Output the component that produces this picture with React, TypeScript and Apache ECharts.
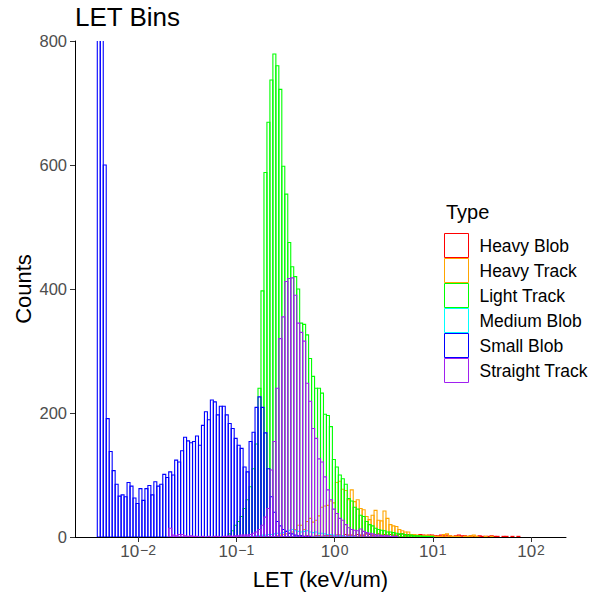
import React, { useEffect, useRef } from 'react';
import * as echarts from 'echarts';

// Histogram bins in log10(LET) units
const BIN_START = -2.416;
const BIN_WIDTH = 0.0303;
const X_MIN = -2.643;
const X_MAX = 2.356;
const X_TICKS = [-2, -1, 0, 1, 2];
const Y_MIN = 0;
const Y_MAX = 800;
const Y_INTERVAL = 200;

const CATEGORIES = ['Heavy Blob', 'Heavy Track', 'Light Track', 'Medium Blob', 'Small Blob', 'Straight Track'];
const COLORS = ['#FF0000', '#FFA500', '#00FF00', '#00FFFF', '#0000FF', '#A020F0'];

// counts per bin, starting at the given first bin index
const heavyBlobFirstBin = 68;
const heavyBlob = [2, 1, 2, 1, 1, 2, 2, 1, 2, 2, 3, 2, 3, 3, 2, 4, 3, 3, 2, 4, 3, 3, 5, 4, 3, 4, 5, 3, 4, 3, 4, 3, 3, 4, 5, 3, 4, 3, 3, 2, 4, 3, 2, 3, 3, 2, 2, 3, 2, 3, 2, 1, 2, 3, 2, 2, 1, 2, 1, 1, 2, 1, 1, 1, 2, 1, 1, 0, 1, 1, 0, 1, 0, 1];

const heavyTrackFirstBin = 60;
const heavyTrack = [2, 3, 4, 5, 6, 8, 12, 19, 19, 12, 25, 30, 24, 27, 34, 48, 50, 51, 58, 55, 88, 90, 77, 75, 60, 76, 57, 60, 46, 44, 33, 28, 35, 43, 27, 26, 42, 30, 20, 18, 17, 12, 10, 8, 8, 4, 4, 3, 2, 2, 3, 2, 2, 1, 1, 1, 4, 5, 2, 1, 1, 1, 0, 1, 1, 2, 3, 1, 0, 0, 1, 0, 1];

const lightTrackFirstBin = 44;
const lightTrack = [5, 10, 19, 25, 33, 46, 60, 81, 110, 150, 240, 397, 588, 669, 737, 779, 760, 722, 598, 553, 475, 436, 420, 400, 345, 343, 326, 288, 259, 240, 240, 232, 198, 196, 178, 125, 113, 100, 94, 85, 62, 58, 48, 45, 35, 33, 25, 20, 18, 14, 12, 11, 10, 8, 8, 7, 6, 5, 5, 4, 3, 3, 2, 2, 2, 1, 1, 1, 1];

const mediumBlobFirstBin = 51;
const mediumBlob = [1, 1, 2, 2, 3, 3, 4, 4, 5, 6, 6, 7, 9, 11, 12, 10, 9, 8, 9, 10, 8, 7, 8, 6, 6, 5, 4, 4, 3, 2, 2, 2, 1, 1, 1, 1];

const smallBlobFirstBin = 0;
const smallBlob = [1500, 1100, 600, 191, 138, 107, 85, 66, 68, 65, 88, 82, 63, 54, 78, 59, 78, 83, 68, 89, 82, 85, 101, 96, 105, 100, 124, 121, 139, 161, 155, 152, 154, 163, 148, 180, 202, 189, 221, 218, 197, 211, 211, 197, 183, 175, 159, 148, 143, 113, 105, 154, 169, 209, 226, 209, 168, 110, 65, 40, 25, 18, 12, 9, 6, 5, 3, 2, 2, 1, 1, 1];

const straightTrackFirstBin = 24;
const straightTrack = [14, 3, 2, 4, 4, 2, 1, 2, 1, 1, 0, 1, 0, 1, 0, 1, 1, 0, 1, 1, 2, 1, 2, 2, 3, 3, 3, 4, 6, 8, 12, 19, 32, 46, 108, 154, 240, 320, 355, 412, 417, 418, 390, 345, 330, 316, 248, 219, 175, 159, 126, 121, 97, 76, 60, 45, 38, 30, 27, 20, 15, 12, 11, 10, 13, 9, 7, 6, 5, 3, 3, 2, 2, 2, 1, 1, 1];

const SERIES_COUNTS = [
  { first: heavyBlobFirstBin, counts: heavyBlob },
  { first: heavyTrackFirstBin, counts: heavyTrack },
  { first: lightTrackFirstBin, counts: lightTrack },
  { first: mediumBlobFirstBin, counts: mediumBlob },
  { first: smallBlobFirstBin, counts: smallBlob },
  { first: straightTrackFirstBin, counts: straightTrack },
];

const FONT = '"Liberation Sans", Arial, Helvetica, sans-serif';
const TICK_TEXT = '#4D4D4D';

export default function App() {
  const ref = useRef<HTMLDivElement>(null);

  useEffect(() => {
    if (!ref.current) return;
    const chart = echarts.init(ref.current, null, { renderer: 'svg' });

    const series = CATEGORIES.map((name, k) => {
      const { first, counts } = SERIES_COUNTS[k];
      const data = counts
        .map((c, j) => [BIN_START + (first + j) * BIN_WIDTH, BIN_START + (first + j + 1) * BIN_WIDTH, c])
        .filter((d) => d[2] > 0);
      return {
        type: 'custom',
        name,
        clip: true,
        data,
        encode: { x: [0, 1], y: 2 },
        itemStyle: { color: COLORS[k] },
        renderItem: (params: any, api: any) => {
          const a = api.coord([api.value(0), 0]);
          const b = api.coord([api.value(1), api.value(2)]);
          return {
            type: 'rect',
            shape: { x: a[0], y: b[1], width: b[0] - a[0], height: a[1] - b[1] },
            style: { fill: 'none', stroke: COLORS[k], lineWidth: 1.1 },
          };
        },
      };
    });

    const option: any = {
      animation: false,
      backgroundColor: '#fff',
      textStyle: { fontFamily: FONT },
      title: {
        text: 'LET Bins',
        left: 75,
        top: 4,
        padding: 0,
        textStyle: { fontSize: 26, fontWeight: 'normal', color: '#000', fontFamily: FONT },
      },
      grid: { left: 75, top: 41, width: 491, height: 496, containLabel: false, outerBoundsMode: 'none' },
      xAxis: {
        type: 'value',
        min: X_MIN,
        max: X_MAX,
        axisLine: { show: true, onZero: false, lineStyle: { color: '#000', width: 1 } },
        axisTick: { show: true, customValues: X_TICKS, length: 5, lineStyle: { color: '#333' } },
        axisLabel: {
          customValues: X_TICKS,
          margin: 6,
          formatter: (v: number) => `{b|10}{s|${v < 0 ? '\u2212' : ''}${Math.abs(v)}}`,
          rich: {
            b: { fontSize: 17, color: TICK_TEXT, fontFamily: FONT, lineHeight: 17, padding: [6, 0, 0, 0], verticalAlign: 'bottom' },
            s: { fontSize: 14, color: TICK_TEXT, fontFamily: FONT, lineHeight: 14, verticalAlign: 'top', padding: [0, 0, 0, 1] },
          },
        },
        splitLine: { show: false },
        name: 'LET (keV/um)',
        nameLocation: 'middle',
        nameGap: 31,
        nameMoveOverlap: false,
        nameTextStyle: { fontSize: 22, lineHeight: 22, color: '#000', fontFamily: FONT },
      },
      yAxis: {
        type: 'value',
        min: Y_MIN,
        max: Y_MAX,
        interval: Y_INTERVAL,
        axisLine: { show: true, onZero: false, lineStyle: { color: '#000', width: 1 } },
        axisTick: { show: true, length: 5, lineStyle: { color: '#333' } },
        axisLabel: { margin: 8, fontSize: 16.5, color: TICK_TEXT, fontFamily: FONT },
        splitLine: { show: false },
        name: 'Counts',
        nameLocation: 'middle',
        nameGap: 41,
        nameMoveOverlap: false,
        nameTextStyle: { fontSize: 22, lineHeight: 22, color: '#000', fontFamily: FONT },
      },
      legend: {
        orient: 'vertical',
        left: 444,
        top: 233,
        padding: 0,
        itemWidth: 24,
        itemHeight: 24,
        itemGap: 0,
        selectedMode: false,
        icon: 'rect',
        data: CATEGORIES.map((n, k) => ({
          name: n,
          icon: 'rect',
          itemStyle: { color: '#fff', borderColor: COLORS[k], borderWidth: 1 },
        })),
        textStyle: { fontSize: 17.5, color: '#000', fontFamily: FONT, padding: [0, 0, 0, 6] },
      },
      graphic: [
        {
          type: 'text',
          left: 446,
          top: 202,
          style: { text: 'Type', fontSize: 20, fill: '#000', fontFamily: FONT },
        },
      ],
      series,
    };

    chart.setOption(option);
    return () => chart.dispose();
  }, []);

  return <div ref={ref} style={{ position: 'fixed', left: 0, top: 0, width: 595, height: 592 }} />;
}
